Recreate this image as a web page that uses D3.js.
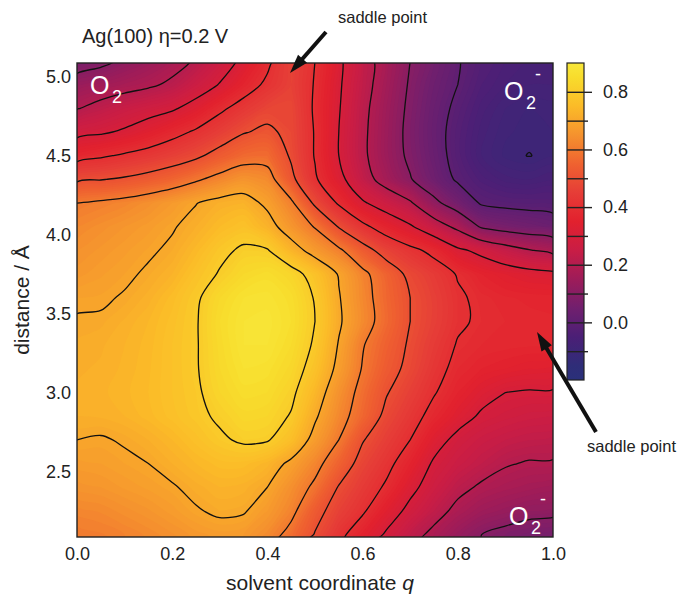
<!DOCTYPE html>
<html>
<head>
<meta charset="utf-8">
<script src="https://cdn.jsdelivr.net/npm/d3@7"></script>
<style>
  body { margin: 0; background: #fff; }
  text { font-family: "Liberation Sans", Arial, sans-serif; }
</style>
</head>
<body>
<svg id="chart" width="690" height="595"></svg>
<script>
// grid: solvent coordinate q (columns) x distance in Å (rows)
const qGrid = [0.00, 0.05, 0.10, 0.15, 0.20, 0.25, 0.30, 0.35, 0.40, 0.45, 0.50,
               0.55, 0.60, 0.65, 0.70, 0.75, 0.80, 0.85, 0.90, 0.95, 1.00];
const distanceGrid = [5.10, 4.95, 4.80, 4.65, 4.50, 4.35, 4.20, 4.05, 3.90, 3.75, 3.60,
                      3.45, 3.30, 3.15, 3.00, 2.85, 2.70, 2.55, 2.40, 2.25, 2.10];
// free energy (eV), one row per distance, top row = 5.10 Å
const energyRows = [
  [0.06, 0.08, 0.113, 0.142, 0.173, 0.207, 0.26, 0.316, 0.383, 0.46, 0.40, 0.314, 0.233, 0.165, 0.10, 0.052, 0.004, -0.03, -0.05, -0.06, -0.06],
  [0.136, 0.155, 0.172, 0.188, 0.213, 0.258, 0.304, 0.362, 0.415, 0.46, 0.395, 0.31, 0.23, 0.16, 0.092, 0.04, 0.0, -0.04, -0.06, -0.07, -0.07],
  [0.196, 0.225, 0.25, 0.27, 0.29, 0.33, 0.385, 0.43, 0.47, 0.475, 0.39, 0.305, 0.22, 0.15, 0.085, 0.03, -0.015, -0.055, -0.08, -0.09, -0.085],
  [0.277, 0.29, 0.31, 0.34, 0.375, 0.41, 0.45, 0.495, 0.515, 0.48, 0.395, 0.30, 0.215, 0.145, 0.08, 0.025, -0.025, -0.065, -0.088, -0.094, -0.09],
  [0.37, 0.39, 0.41, 0.43, 0.455, 0.485, 0.53, 0.565, 0.57, 0.49, 0.395, 0.30, 0.215, 0.145, 0.085, 0.03, -0.025, -0.07, -0.093, -0.101, -0.092],
  [0.488, 0.497, 0.51, 0.53, 0.555, 0.59, 0.625, 0.655, 0.635, 0.52, 0.41, 0.325, 0.235, 0.165, 0.105, 0.045, -0.01, -0.045, -0.065, -0.07, -0.06],
  [0.60, 0.612, 0.625, 0.645, 0.67, 0.698, 0.722, 0.73, 0.685, 0.615, 0.485, 0.39, 0.31, 0.26, 0.21, 0.12, 0.055, -0.008, -0.018, -0.022, -0.025],
  [0.63, 0.645, 0.66, 0.675, 0.695, 0.72, 0.75, 0.77, 0.73, 0.66, 0.595, 0.495, 0.42, 0.36, 0.31, 0.245, 0.18, 0.09, 0.065, 0.05, 0.033],
  [0.65, 0.663, 0.677, 0.692, 0.71, 0.745, 0.785, 0.81, 0.805, 0.735, 0.67, 0.615, 0.535, 0.465, 0.42, 0.38, 0.315, 0.28, 0.24, 0.205, 0.18],
  [0.665, 0.678, 0.69, 0.708, 0.73, 0.77, 0.805, 0.84, 0.855, 0.83, 0.77, 0.695, 0.62, 0.55, 0.48, 0.44, 0.395, 0.36, 0.34, 0.325, 0.315],
  [0.69, 0.692, 0.705, 0.725, 0.755, 0.79, 0.84, 0.87, 0.875, 0.855, 0.795, 0.705, 0.63, 0.56, 0.50, 0.455, 0.41, 0.385, 0.372, 0.367, 0.365],
  [0.705, 0.707, 0.722, 0.74, 0.765, 0.795, 0.85, 0.88, 0.885, 0.86, 0.80, 0.71, 0.635, 0.565, 0.50, 0.455, 0.41, 0.39, 0.38, 0.375, 0.372],
  [0.712, 0.718, 0.73, 0.745, 0.77, 0.795, 0.845, 0.88, 0.88, 0.85, 0.79, 0.695, 0.605, 0.545, 0.49, 0.44, 0.395, 0.38, 0.375, 0.372, 0.372],
  [0.718, 0.722, 0.733, 0.748, 0.77, 0.795, 0.84, 0.87, 0.865, 0.835, 0.77, 0.68, 0.595, 0.53, 0.48, 0.425, 0.38, 0.36, 0.35, 0.34, 0.335],
  [0.722, 0.727, 0.737, 0.75, 0.77, 0.79, 0.83, 0.855, 0.85, 0.815, 0.74, 0.65, 0.575, 0.505, 0.455, 0.405, 0.36, 0.325, 0.30, 0.295, 0.295],
  [0.72, 0.722, 0.73, 0.745, 0.765, 0.785, 0.81, 0.835, 0.83, 0.795, 0.71, 0.63, 0.56, 0.48, 0.43, 0.375, 0.33, 0.29, 0.275, 0.265, 0.26],
  [0.70, 0.695, 0.705, 0.72, 0.74, 0.765, 0.79, 0.81, 0.805, 0.76, 0.675, 0.60, 0.505, 0.45, 0.40, 0.33, 0.28, 0.255, 0.24, 0.23, 0.225],
  [0.675, 0.68, 0.69, 0.70, 0.72, 0.74, 0.755, 0.755, 0.735, 0.685, 0.625, 0.55, 0.47, 0.42, 0.36, 0.29, 0.255, 0.23, 0.205, 0.195, 0.195],
  [0.655, 0.66, 0.672, 0.683, 0.695, 0.715, 0.73, 0.725, 0.70, 0.645, 0.585, 0.495, 0.44, 0.39, 0.32, 0.265, 0.22, 0.19, 0.175, 0.165, 0.155],
  [0.625, 0.632, 0.645, 0.658, 0.675, 0.695, 0.71, 0.705, 0.67, 0.62, 0.53, 0.46, 0.41, 0.34, 0.28, 0.23, 0.18, 0.15, 0.135, 0.12, 0.115],
  [0.602, 0.608, 0.62, 0.633, 0.648, 0.665, 0.675, 0.67, 0.635, 0.575, 0.495, 0.42, 0.355, 0.29, 0.23, 0.18, 0.135, 0.10, 0.08, 0.065, 0.06]
];

const contourLevels = [-0.1, 0.0, 0.1, 0.2, 0.3, 0.4, 0.5, 0.6, 0.7, 0.8];
const xTicks = [0.0, 0.2, 0.4, 0.6, 0.8, 1.0];
const yTicks = [2.5, 3.0, 3.5, 4.0, 4.5, 5.0];
const barMajor = [0.0, 0.2, 0.4, 0.6, 0.8];
const barMinor = [-0.1, 0.1, 0.3, 0.5, 0.7];
const barRange = [-0.2, 0.9];
const colorStops = [
  [-0.2, "#2a307a"], [-0.15, "#2f2d78"], [-0.05, "#4b1f76"], [0.05, "#711f6e"],
  [0.15, "#9e1c59"], [0.25, "#c91d45"], [0.35, "#e2212e"], [0.45, "#e63d37"],
  [0.55, "#ef6230"], [0.65, "#f5922e"], [0.75, "#fbbb28"], [0.85, "#f8dc2c"], [0.9, "#f8e83a"]
];

const svg = d3.select("#chart");
const plot = {left: 77, right: 553, top: 63, bottom: 537};

const x = d3.scaleLinear().domain([0, 1]).range([plot.left, plot.right]);
const y = d3.scaleLinear().domain([2.085, 5.087]).range([plot.bottom, plot.top]);
const color = d3.scaleLinear()
  .domain(colorStops.map(d => d[0]))
  .range(colorStops.map(d => d[1]))
  .clamp(true);

// contour grid -> pixels (d3.contours puts sample i at i + 0.5)
const nx = qGrid.length, ny = distanceGrid.length;
const values = energyRows.flat();
const gx = d3.scaleLinear().domain([0.5, nx - 0.5]).range([x(qGrid[0]), x(qGrid[nx - 1])]);
const gy = d3.scaleLinear().domain([0.5, ny - 0.5]).range([y(distanceGrid[0]), y(distanceGrid[ny - 1])]);

// rings drawn as closed Catmull-Rom curves so the iso lines come out rounded
const ringLine = d3.line()
  .x(p => gx(p[0]))
  .y(p => gy(p[1]))
  .curve(d3.curveCatmullRomClosed.alpha(0.5));
function smoothPath(geom) {
  let d = "";
  geom.coordinates.forEach(polygon => {
    polygon.forEach(ring => { d += ringLine(ring.slice(0, -1)); });
  });
  return d;
}

svg.append("clipPath").attr("id", "plotClip")
  .append("rect")
    .attr("x", plot.left).attr("y", plot.top)
    .attr("width", plot.right - plot.left).attr("height", plot.bottom - plot.top);

const surface = svg.append("g").attr("clip-path", "url(#plotClip)");

surface.append("rect")
  .attr("x", plot.left).attr("y", plot.top)
  .attr("width", plot.right - plot.left).attr("height", plot.bottom - plot.top)
  .attr("fill", color(-0.1));

// smooth colour: many thin filled bands
const fillLevels = d3.range(-20, 90).map(i => i / 100);
const bands = d3.contours().size([nx, ny]).thresholds(fillLevels)(values);
surface.selectAll("path.band")
  .data(bands)
  .join("path")
    .attr("class", "band")
    .attr("d", smoothPath)
    .attr("fill", d => color(d.value + 0.005));

// contour lines every 0.1 eV
const iso = d3.contours().size([nx, ny]).thresholds(contourLevels)(values);
surface.selectAll("path.iso")
  .data(iso)
  .join("path")
    .attr("class", "iso")
    .attr("d", smoothPath)
    .attr("fill", "none")
    .attr("stroke", "#111")
    .attr("stroke-width", 1.3);

// frame
svg.append("rect")
  .attr("x", plot.left).attr("y", plot.top)
  .attr("width", plot.right - plot.left).attr("height", plot.bottom - plot.top)
  .attr("fill", "none").attr("stroke", "#222").attr("stroke-width", 1.4);

// axes
const xAxis = svg.append("g")
  .attr("transform", "translate(0," + plot.bottom + ")")
  .call(d3.axisBottom(x).tickValues(xTicks).tickFormat(d3.format(".1f")).tickSize(0).tickPadding(10));
xAxis.select(".domain").remove();

const yAxis = svg.append("g")
  .attr("transform", "translate(" + plot.left + ",0)")
  .call(d3.axisLeft(y).tickValues(yTicks).tickFormat(d3.format(".1f")).tickSize(0).tickPadding(6));
yAxis.select(".domain").remove();

svg.selectAll(".tick text")
  .attr("font-size", 18)
  .attr("fill", "#222")
  .style("font-family", "'Liberation Sans', Arial, sans-serif");

svg.append("text")
  .attr("x", 320).attr("y", 590)
  .attr("text-anchor", "middle")
  .attr("font-size", 21).attr("fill", "#222")
  .text("solvent coordinate ")
  .append("tspan").attr("font-style", "italic").text("q");

svg.append("text")
  .attr("transform", "translate(29,300) rotate(-90)")
  .attr("text-anchor", "middle")
  .attr("font-size", 21).attr("fill", "#222")
  .text("distance / Å");

svg.append("text")
  .attr("x", 82).attr("y", 43)
  .attr("font-size", 20).attr("fill", "#222")
  .text("Ag(100) η=0.2 V");

// colour bar
const bar = {left: 567, right: 584, top: 63, bottom: 380};
const cbY = d3.scaleLinear().domain(barRange).range([bar.bottom, bar.top]);

const grad = svg.append("defs").append("linearGradient")
  .attr("id", "cbGrad")
  .attr("x1", 0).attr("y1", 1).attr("x2", 0).attr("y2", 0);
grad.selectAll("stop")
  .data(colorStops)
  .join("stop")
    .attr("offset", d => (d[0] - barRange[0]) / (barRange[1] - barRange[0]))
    .attr("stop-color", d => d[1]);

svg.append("rect")
  .attr("x", bar.left).attr("y", bar.top)
  .attr("width", bar.right - bar.left).attr("height", bar.bottom - bar.top)
  .attr("fill", "url(#cbGrad)")
  .attr("stroke", "#222").attr("stroke-width", 1.2);

const minorAxis = svg.append("g")
  .attr("transform", "translate(" + bar.left + ",0)")
  .call(d3.axisRight(cbY).tickValues(barMinor).tickSize(21).tickFormat(""));
minorAxis.select(".domain").remove();

const majorAxis = svg.append("g")
  .attr("transform", "translate(" + bar.left + ",0)")
  .call(d3.axisRight(cbY).tickValues(barMajor).tickFormat(d3.format(".1f")).tickSize(25).tickPadding(11));
majorAxis.select(".domain").remove();

svg.selectAll(".tick line").attr("stroke", "#222").attr("stroke-width", 1.4);
majorAxis.selectAll("text")
  .attr("font-size", 18).attr("fill", "#222")
  .style("font-family", "'Liberation Sans', Arial, sans-serif");

// species labels
function species(g, ox, oy, charge) {
  g.append("text").attr("x", ox).attr("y", oy).attr("font-size", 25).attr("fill", "#fff").text("O");
  g.append("text").attr("x", ox + 22).attr("y", oy + 9).attr("font-size", 18).attr("fill", "#fff").text("2");
  if (charge) {
    g.append("text").attr("x", ox + 31).attr("y", oy - 20).attr("font-size", 18).attr("fill", "#fff").text("-");
  }
}
const labels = svg.append("g");
species(labels, 90, 94, false);
species(labels, 504, 100, true);
species(labels, 509, 525, true);

// saddle point annotations
function arrow(tail, tip) {
  const dx = tip[0] - tail[0], dy = tip[1] - tail[1];
  const len = Math.hypot(dx, dy), ux = dx / len, uy = dy / len;
  const headLen = 19, headHalf = 6;
  const base = [tip[0] - ux * headLen, tip[1] - uy * headLen];
  svg.append("line")
    .attr("x1", tail[0]).attr("y1", tail[1])
    .attr("x2", base[0] + ux * 2).attr("y2", base[1] + uy * 2)
    .attr("stroke", "#111").attr("stroke-width", 4);
  svg.append("path")
    .attr("d", "M" + tip + "L" + [base[0] - uy * headHalf, base[1] + ux * headHalf] +
               "L" + [base[0] + uy * headHalf, base[1] - ux * headHalf] + "Z")
    .attr("fill", "#111");
}
arrow([326, 32], [290, 73]);
arrow([596, 432], [537, 332]);

svg.append("text").attr("x", 338).attr("y", 23).attr("font-size", 16.5).attr("fill", "#222").text("saddle point");
svg.append("text").attr("x", 587).attr("y", 452).attr("font-size", 16.5).attr("fill", "#222").text("saddle point");
</script>
</body>
</html>
